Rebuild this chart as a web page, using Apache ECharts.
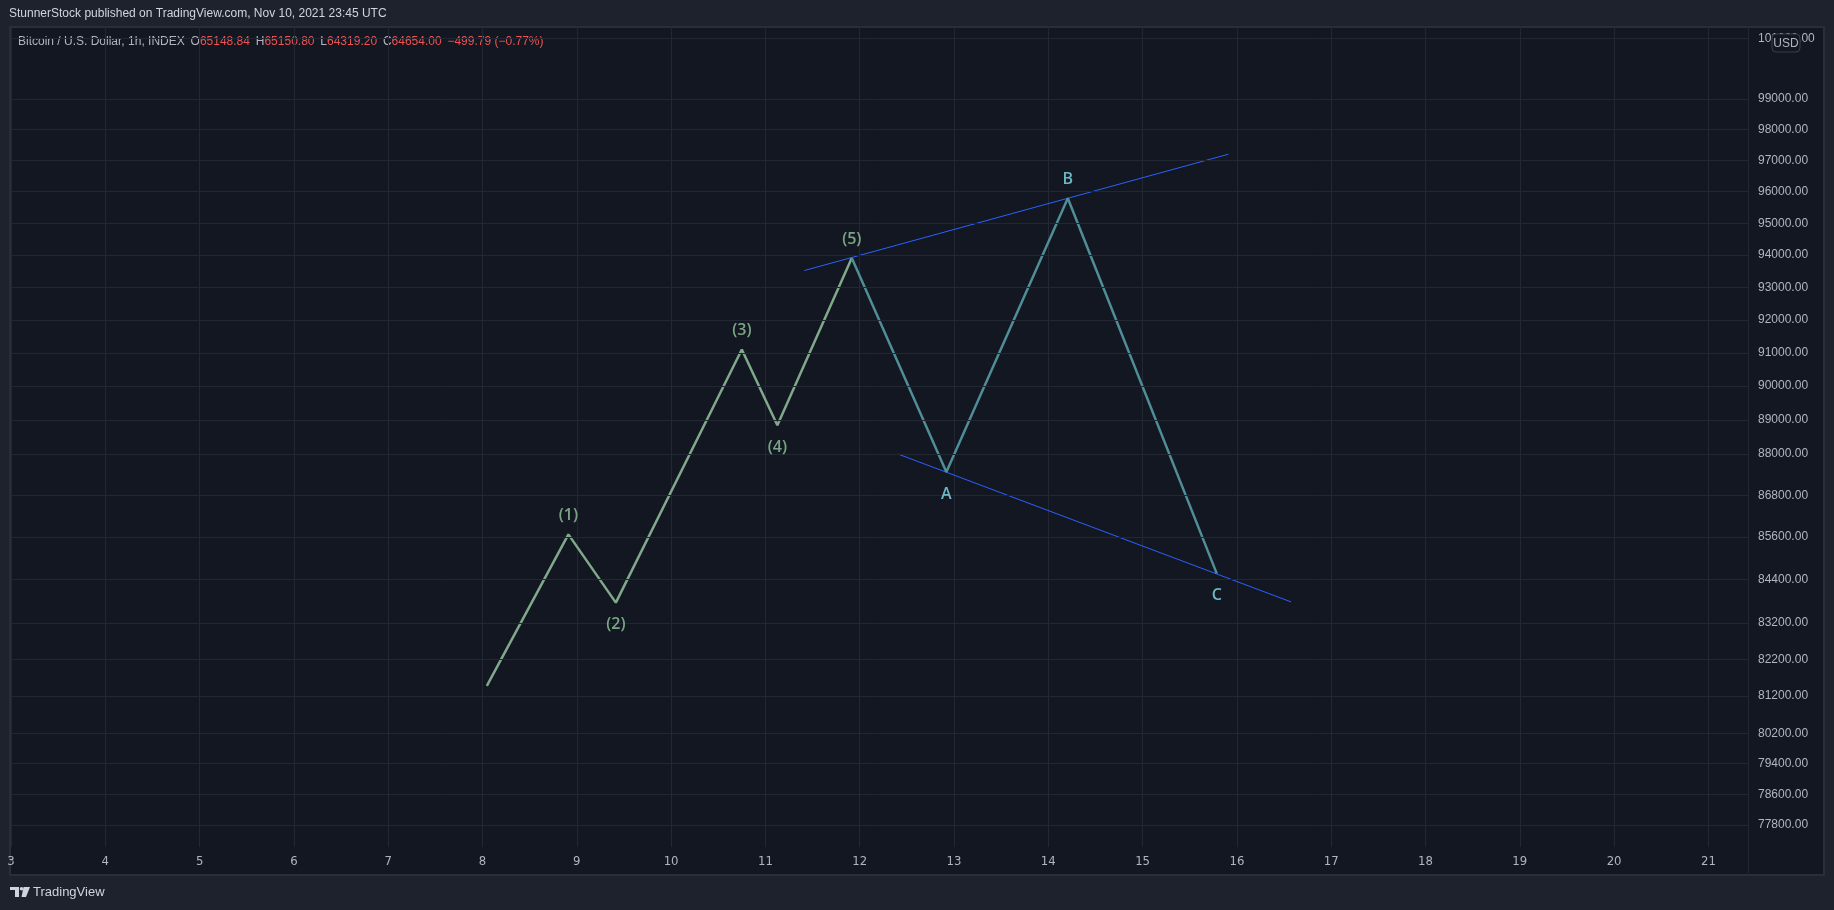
<!DOCTYPE html>
<html>
<head>
<meta charset="utf-8">
<script src="https://cdn.jsdelivr.net/npm/echarts@6/dist/echarts.min.js"></script>
<style>
  html, body { margin: 0; padding: 0; background: #1e222d; }
  #chart { width: 1834px; height: 910px; }
</style>
</head>
<body>
<div id="chart"></div>
<script>
// ---- Data ----
const impulseDays   = [8.046, 8.911, 9.414, 10.750, 11.127, 11.916];
const impulsePrices = [81480, 85680, 83760, 91100, 88840, 93910];
const impulseLabels = ['', '(1)', '(2)', '(3)', '(4)', '(5)'];

const correctiveDays   = [11.916, 12.919, 14.207, 15.787];
const correctivePrices = [93910, 87470, 95790, 84570];
const correctiveLabels = ['', 'A', 'B', 'C'];

const upperTrendDays   = [11.414, 15.910];
const upperTrendPrices = [93520, 97200];
const lowerTrendDays   = [12.410, 16.575];
const lowerTrendPrices = [87990, 83780];

const priceTicks = [101000, 99000, 98000, 97000, 96000, 95000, 94000, 93000, 92000, 91000,
  90000, 89000, 88000, 86800, 85600, 84400, 83200, 82200, 81200, 80200, 79400, 78600, 77800];

const dayMin = 3, dayMax = 21.42;
const priceMin = 77236, priceMax = 101391;

const headerText = 'StunnerStock published on TradingView.com, Nov 10, 2021 23:45 UTC';
const legendParts = [
  ['g', 'Bitcoin / U.S. Dollar, 1h, INDEX'], ['s', ' '], ['g', 'O'], ['r', '65148.84'],
  ['s', ' '], ['g', 'H'], ['r', '65150.80'],
  ['s', ' '], ['g', 'L'], ['r', '64319.20'],
  ['s', ' '], ['g', 'C'], ['r', '64654.00'],
  ['s', ' '], ['r', '−499.79 (−0.77%)']
];

// ---- Styles ----
const GRID = '#232734';
const AXIS_TXT = '#b2b5be';
const FONT = "'Liberation Sans', Arial, sans-serif";
const LABEL_FONT = "'Open Sans', 'Noto Sans', sans-serif";

function pts(xs, ys) { return xs.map((x, i) => [x, ys[i]]); }
function labelPts(xs, ys, labels) {
  const out = [];
  for (let i = 0; i < xs.length; i++) {
    if (!labels[i]) continue;
    const up = i > 0 && ys[i] > ys[i - 1];
    out.push({ value: [xs[i], ys[i]], name: labels[i],
      label: { position: up ? 'top' : 'bottom', distance: up ? 10.5 : 13.5 } });
  }
  return out;
}

const chart = echarts.init(document.getElementById('chart'), null, { renderer: 'canvas' });

const option = {
  backgroundColor: '#1e222d',
  animation: false,
  grid: { left: 11, right: 86, top: 27, bottom: 63, show: false },
  xAxis: {
    type: 'value', min: dayMin, max: dayMax, interval: 1,
    axisLine: { show: false }, axisTick: { show: false },
    splitLine: { show: true, lineStyle: { color: GRID, width: 1 } },
    axisLabel: { color: AXIS_TXT, fontSize: 13, margin: 8, showMaxLabel: false,
      fontFamily: "'Liberation Sans Narrow', 'DejaVu Sans Condensed', sans-serif" }
  },
  yAxis: {
    type: 'log', logBase: 10, min: priceMin, max: priceMax, position: 'right',
    axisLine: { show: false }, axisTick: { show: false },
    axisLabel: { show: false }, splitLine: { show: false }
  },
  graphic: [
    { type: 'rect', z: -10, shape: { x: 10, y: 27, width: 1814, height: 848 },
      style: { fill: '#131722', stroke: '#2a2e39', lineWidth: 2 } },
    { type: 'line', z: 1, shape: { x1: 1748.5, y1: 27, x2: 1748.5, y2: 875 },
      style: { stroke: '#222631', lineWidth: 1 } },
    { type: 'text', left: 9, top: 8,
      style: { text: headerText, fill: '#d1d4dc', font: "12px " + FONT } },
    { type: 'text', left: 18, top: 36,
      style: {
        text: legendParts.map(p => '{' + p[0] + '|' + p[1] + '}').join(''),
        rich: {
          g: { fill: AXIS_TXT, fontSize: 12, fontFamily: FONT },
          r: { fill: '#ef5350', fontSize: 12, fontFamily: FONT },
          s: { fontSize: 12, fontFamily: FONT, padding: [0, 2.5, 0, 0] }
        }
      } },
    { type: 'rect', z: 100, shape: { x: 1772, y: 34, width: 28, height: 18, r: 4 },
      style: { fill: '#131722', stroke: '#3b3f4a', lineWidth: 1 } },
    { type: 'text', z: 101, x: 1786, y: 43.5,
      style: { text: 'USD', fill: AXIS_TXT, font: '12px ' + FONT, align: 'center', verticalAlign: 'middle' } },
    { type: 'rect', shape: { x: 10, y: 887, width: 9, height: 3 }, style: { fill: '#d1d4dc' } },
    { type: 'rect', shape: { x: 15, y: 887, width: 4, height: 10 }, style: { fill: '#d1d4dc' } },
    { type: 'circle', shape: { cx: 21.5, cy: 888.7, r: 1.8 }, style: { fill: '#d1d4dc' } },
    { type: 'polygon', shape: { points: [[23.5, 887], [30, 887], [26, 897], [21.5, 897]] }, style: { fill: '#d1d4dc' } },
    { type: 'text', x: 33, y: 892,
      style: { text: 'TradingView', fill: '#d1d4dc', font: '13px ' + FONT, verticalAlign: 'middle' } }
  ],
  series: [
    {
      name: 'grid', type: 'line', data: [], z: 1, silent: true,
      markLine: {
        silent: true, symbol: ['none', 'none'], animation: false,
        lineStyle: { color: GRID, width: 1, type: 'solid' },
        label: { show: true, position: 'end', distance: 10, formatter: '{b}',
          color: AXIS_TXT, fontSize: 12, fontFamily: FONT },
        emphasis: { disabled: true },
        data: priceTicks.map(v => ({ yAxis: v, name: v.toFixed(2) }))
      }
    },
    {
      name: 'upper', type: 'line', z: 3, symbol: 'none', silent: true,
      data: pts(upperTrendDays, upperTrendPrices),
      lineStyle: { color: '#2962ff', width: 1 }
    },
    {
      name: 'lower', type: 'line', z: 3, symbol: 'none', silent: true,
      data: pts(lowerTrendDays, lowerTrendPrices),
      lineStyle: { color: '#2962ff', width: 1 }
    },
    {
      name: 'impulse', type: 'line', z: 4, symbol: 'none', silent: true,
      data: pts(impulseDays, impulsePrices),
      lineStyle: { color: '#80a88a', width: 2.5 }
    },
    {
      name: 'corrective', type: 'line', z: 4, symbol: 'none', silent: true,
      data: pts(correctiveDays, correctivePrices),
      lineStyle: { color: '#4f8d97', width: 2.5 }
    },
    {
      name: 'impulseLabels', type: 'scatter', z: 5, symbolSize: 1, silent: true,
      itemStyle: { color: 'rgba(0,0,0,0)' },
      data: labelPts(impulseDays, impulsePrices, impulseLabels),
      label: { show: true, formatter: '{b}', color: '#94c99e',
        fontSize: 16, fontWeight: 600, fontFamily: LABEL_FONT }
    },
    {
      name: 'correctiveLabels', type: 'scatter', z: 5, symbolSize: 1, silent: true,
      itemStyle: { color: 'rgba(0,0,0,0)' },
      data: labelPts(correctiveDays, correctivePrices, correctiveLabels),
      label: { show: true, formatter: '{b}', color: '#84deee',
        fontSize: 16, fontWeight: 600, fontFamily: LABEL_FONT }
    }
  ]
};
chart.setOption(option);
</script>
</body>
</html>
